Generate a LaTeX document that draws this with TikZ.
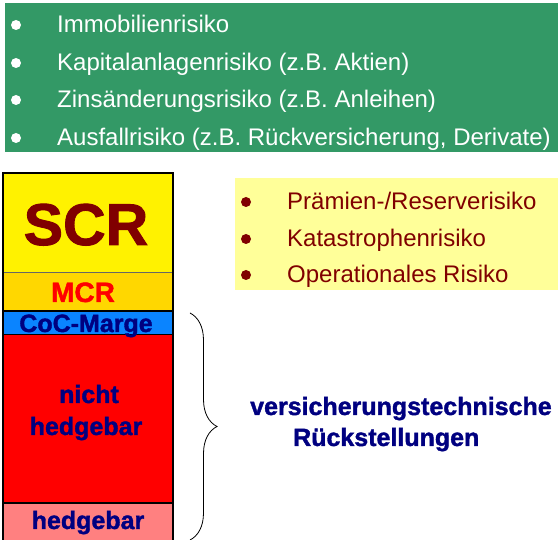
\documentclass[tikz,border=0pt]{standalone}
\usepackage{fontspec}
\setmainfont{Liberation Sans}
\newfontfamily\dick{Liberation Sans Bold}[FakeBold=1.5]
\usetikzlibrary{decorations.pathreplacing}
\definecolor{gruen}{HTML}{339966}
\definecolor{hellgelb}{HTML}{FFFF99}
\definecolor{gold}{HTML}{FFD700}
\definecolor{blau}{HTML}{0A84FF}
\definecolor{rosa}{HTML}{FF8080}
\definecolor{marine}{HTML}{000080}
\definecolor{dunkelrot}{HTML}{800000}
\begin{document}
\begin{tikzpicture}[x=1pt,y=-1pt,
	punkt/.style={anchor=base west,inner sep=0pt,font=\fontsize{24}{28}\selectfont},
	fett/.style={anchor=base,inner sep=0pt,text=marine,font=\dick\fontsize{25}{28}\selectfont}]
\useasboundingbox (0,0) rectangle (558,540);
% Marktrisiken
\fill[gruen] (5,3) rectangle (558,152);
\foreach \y in {33,71,108,146} \fill[white] (16,\y-8) circle (5pt);
\node[punkt,text=white] (immo) at (57,33) {Immobilienrisiko};
\node[punkt,text=white] (kapital) at (57,71) {Kapitalanlagenrisiko (z.B. Aktien)};
\node[punkt,text=white] (zins) at (57,108) {Zinsänderungsrisiko (z.B. Anleihen)};
\node[punkt,text=white] (ausfall) at (57,146) {Ausfallrisiko (z.B. Rückversicherung, Derivate)};
% versicherungstechnische Risiken
\fill[hellgelb] (235,178) rectangle (558,290);
\foreach \y in {210,247,283} \fill[dunkelrot] (246,\y-8) circle (5pt);
\node[punkt,text=dunkelrot] (praemie) at (287,210) {Prämien-/Reserverisiko};
\node[punkt,text=dunkelrot] (kat) at (287,247) {Katastrophenrisiko};
\node[punkt,text=dunkelrot] (op) at (287,283) {Operationales Risiko};
% Bilanzsaeule
\fill[yellow] (3,173) rectangle (173,272);
\fill[gold] (3,272) rectangle (173,311);
\fill[blau] (3,311) rectangle (173,335);
\fill[red] (3,335) rectangle (173,503);
\fill[rosa] (3,503) rectangle (173,542);
\draw[black!60,line width=0.8pt] (3,272) -- (173,272);
\draw[line width=2pt] (3,311) -- (173,311);
\draw[line width=1pt] (3,335) -- (173,335);
\draw[line width=2pt] (3,503) -- (173,503);
\draw[line width=1.5pt] (3,542) -- (3,173) -- (173,173) -- (173,542);
\node[anchor=base,inner sep=0pt,text=dunkelrot,font=\dick\fontsize{59}{62}\selectfont] (scr) at (86,245) {SCR};
\node[anchor=base,inner sep=0pt,text=red,font=\dick\fontsize{28}{30}\selectfont] (mcr) at (83,302) {MCR};
\node[fett] (coc) at (86,332) {CoC-Marge};
\node[fett] (nicht) at (89,403) {nicht};
\node[fett] (nh) at (86,435) {hedgebar};
\node[fett] (hedge) at (88,529) {hedgebar};
% Klammer
\coordinate (oben) at (190,313);
\coordinate (unten) at (190,540);
\draw[decorate,decoration={brace,amplitude=27pt},line width=0.8pt] (oben) -- (unten);
\node[fett,anchor=base west] (vt) at (250,415) {versicherungstechnische};
\node[fett,anchor=base west] (rst) at (293,446) {Rückstellungen};
\end{tikzpicture}
\end{document}
